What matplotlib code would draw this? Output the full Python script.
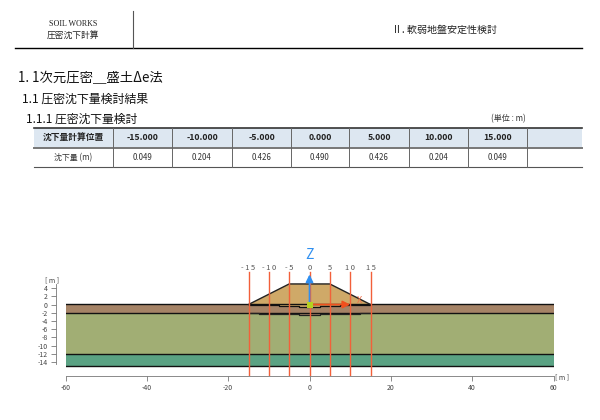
import numpy as np
import matplotlib
matplotlib.use("Agg")
import matplotlib.pyplot as plt
from matplotlib.patches import Rectangle

plt.rcParams['font.family'] = ['Noto Sans CJK JP', 'DejaVu Sans']
plt.rcParams['axes.unicode_minus'] = False

# table values
table_header = ["沈下量計算位置", "-15.000", "-10.000", "-5.000", "0.000", "5.000", "10.000", "15.000", ""]
table_row = ["沈下量 (m)", "0.049", "0.204", "0.426", "0.490", "0.426", "0.204", "0.049", ""]
col_edges = [34, 113, 172, 232, 291, 349, 409, 468, 527, 582]

# section values
stations = [-15, -10, -5, 0, 5, 10, 15]
settlement = [0.049, 0.204, 0.426, 0.490, 0.426, 0.204, 0.049]
station_labels = ["- 1 5", "- 1 0", "- 5", "0", "5", "1 0", "1 5"]
embankment_x = [-15, -5, 5, 15]
embankment_z = [0, 5, 5, 0]
model_x = [-60, 60]
layer_tops = [0, -2, -12]
layer_bottoms = [-2, -12, -15]
layer_colors = ["#a58366", "#a1ae74", "#5aa283"]

fig = plt.figure(figsize=(6, 4.2), dpi=100)

# page layer in pixel coordinates
page = fig.add_axes([0, 0, 1, 1])
page.set_xlim(0, 600)
page.set_ylim(420, 0)
page.axis("off")

page.plot([15, 582], [48, 48], color="black", lw=1.0)
page.plot([132.5, 132.5], [11, 48], color="#555555", lw=0.8)
page.text(73.5, 24, "SOIL WORKS", family="Liberation Serif", fontsize=5.8, ha="center", va="center", color="#222222")
page.text(73, 35, "圧密沈下計算", fontsize=6.3, ha="center", va="center", color="#222222")
page.text(444, 30, "Ⅱ. 軟弱地盤安定性検討", fontsize=7.2, ha="center", va="center", color="#222222")

page.text(18, 78, "1. 1次元圧密＿盛土Δe法", fontsize=9.6, ha="left", va="center", color="#111111")
page.text(22, 99.5, "1.1 圧密沈下量検討結果", fontsize=8.6, ha="left", va="center", color="#111111")
page.text(26, 119, "1.1.1 圧密沈下量検討", fontsize=8.5, ha="left", va="center", color="#111111")
page.text(508, 118.5, "(単位 : m)", fontsize=5.8, ha="center", va="center", color="#333333")

# table
page.add_patch(Rectangle((34, 127.5), 548, 19.5, facecolor="#dde7f1", edgecolor="none"))
page.plot([34, 582], [127.5, 127.5], color="#333333", lw=1.2)
page.plot([34, 582], [147.5, 147.5], color="#777777", lw=1.4)
page.plot([34, 582], [167, 167], color="#555555", lw=0.8)
for edge in col_edges[1:-1]:
    page.plot([edge, edge], [127.5, 167], color="#666666", lw=0.7)
for i in range(len(table_header)):
    mid = (col_edges[i] + col_edges[i + 1]) / 2
    page.text(mid, 137.5, table_header[i], fontsize=6.3, fontweight="bold", ha="center", va="center", color="#222222")
    page.text(mid, 157.5, table_row[i], fontsize=5.7, ha="center", va="center", color="#333333")

# section layer, axes box spans the x axis and the bottom axis line
x0, x1, y_top, y_bottom = 65.5, 553.5, 262, 376
sec = fig.add_axes([x0 / 600, 1 - y_bottom / 420, (x1 - x0) / 600, (y_bottom - y_top) / 420])
sec.patch.set_alpha(0)
sec.set_xlim(-60, 60)
sec.set_ylim((304.5 - y_bottom) / 4.11, (304.5 - y_top) / 4.11)

st = np.array(stations, dtype=float)
s = np.array(settlement)

for top, bottom, color in zip(layer_tops, layer_bottoms, layer_colors):
    sec.fill_between(model_x, bottom, top, color=color, lw=0)

sec.fill(embankment_x, embankment_z, color="#cfa968", lw=0, zorder=2)
sec.fill_between(st, -s, 0, step="mid", color="#cfa968", lw=0, zorder=2)
sec.fill_between(st, -2 - s, -2, step="mid", color="#a58366", lw=0, zorder=2)

for level in layer_tops + [-15]:
    sec.plot(model_x, [level + 0.15] * 2 if level == 0 else [level] * 2, color="#111111", lw=1.0, zorder=3)
sec.plot(embankment_x, embankment_z, color="#222222", lw=1.0, zorder=3)
sec.step(st, -s, where="mid", color="#111111", lw=0.9, zorder=3)
sec.step(st, -2 - s, where="mid", color="#222222", lw=0.9, zorder=3)

# calculation positions
for xpos, label in zip(stations, station_labels):
    sec.plot([xpos, xpos], [-17.4, 7.9], color="#f2603a", lw=1.0, zorder=4)
    sec.text(xpos, 9.0, label, fontsize=5.4, ha="center", va="center", color="#555555", zorder=6)

# local axes at the origin
sec.annotate("", xy=(0, 7.3), xytext=(0, 0), zorder=5,
             arrowprops=dict(arrowstyle="-|>", color="#2f8ff0", lw=1.2, mutation_scale=11, shrinkA=0, shrinkB=0))
sec.annotate("", xy=(10, 0), xytext=(0, 0), zorder=5,
             arrowprops=dict(arrowstyle="-|>", color="#f0501e", lw=1.2, mutation_scale=11, shrinkA=0, shrinkB=0))
sec.text(0, 12, "Z", fontsize=10, ha="center", va="center", color="#2f8ff0", clip_on=False, zorder=6)
sec.text(12.2, 0.9, "X", fontsize=6.5, ha="center", va="center", color="#f0704a", zorder=6)
sec.plot([0], [0], marker="s", ms=5, color="#b5d21f", zorder=6, mew=0)

sec.spines["top"].set_visible(False)
sec.spines["right"].set_visible(False)
sec.spines["left"].set_position(("outward", 6.8))
sec.spines["left"].set_bounds(-14.5, 5)
for name in ["left", "bottom"]:
    sec.spines[name].set_color("#777777")
    sec.spines[name].set_linewidth(0.6)
sec.set_xticks([-60, -40, -20, 0, 20, 40, 60])
sec.set_yticks(np.arange(-14, 5, 2))
sec.tick_params(axis="both", labelsize=5.0, labelcolor="#444444", color="#777777", width=0.6, length=3.5, pad=2.5)

page.text(52, 280, "[ m ]", fontsize=5.0, ha="center", va="center", color="#444444")
page.text(562, 377, "[ m ]", fontsize=5.0, ha="center", va="center", color="#444444")

fig.savefig("out.png", dpi=100)
